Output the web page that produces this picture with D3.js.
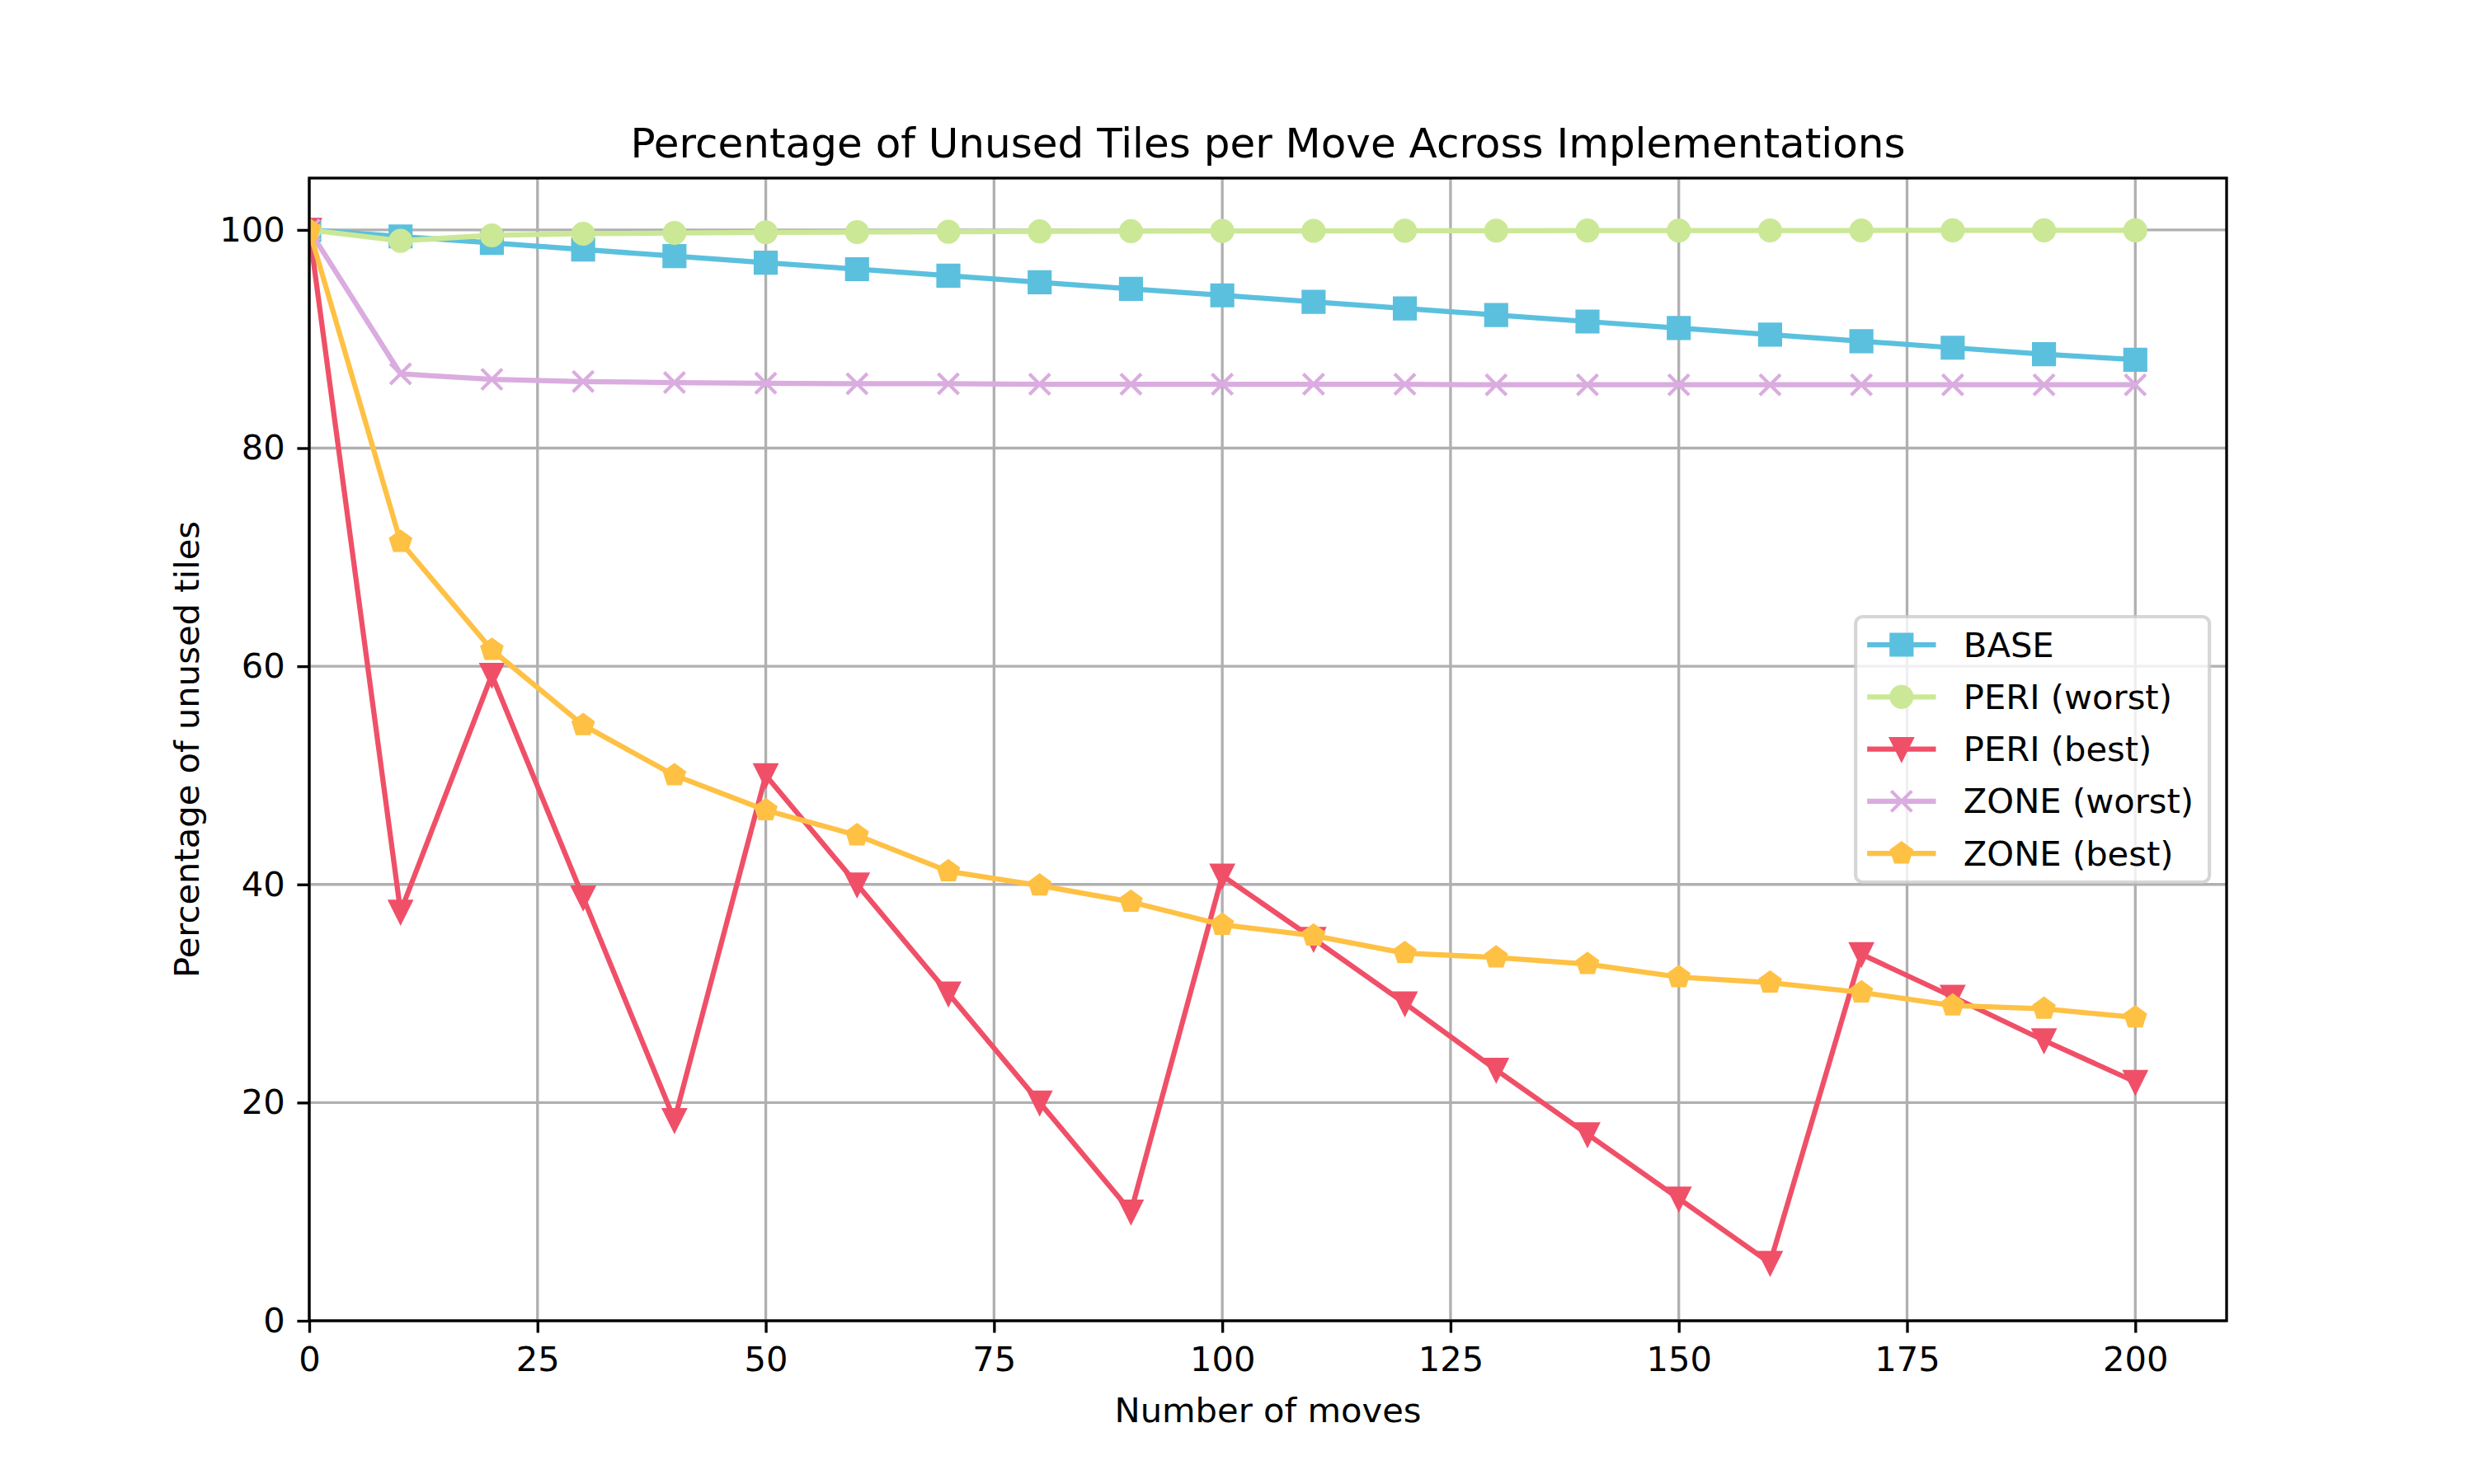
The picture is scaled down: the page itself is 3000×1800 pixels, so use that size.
<!DOCTYPE html>
<html><head><meta charset="utf-8">
<script src="https://cdn.jsdelivr.net/npm/d3@7"></script>
<style>body{margin:0;background:#fff}svg{display:block}text{font-family:"DejaVu Sans",sans-serif}</style>
</head><body>
<svg id="c" width="3000" height="1800"></svg>
<script>
const moves = [0,10,20,30,40,50,60,70,80,90,100,110,120,130,140,150,160,170,180,190,200];
const base = [100,99.4,98.8,98.2,97.6,97.0,96.4,95.8,95.2,94.6,94.0,93.4,92.8,92.2,91.6,91.0,90.4,89.8,89.2,88.6,88.1];
const periWorst = [100,99.0,99.5,99.65,99.72,99.78,99.8,99.83,99.86,99.88,99.9,99.91,99.92,99.93,99.94,99.94,99.95,99.95,99.96,99.96,99.96];
const periBest = [100,37.5,59.2,38.8,18.4,50.0,40.0,30.0,20.0,10.0,40.8,35.0,29.1,23.0,17.1,11.2,5.3,33.6,29.7,25.7,21.9];
const zoneWorst = [100,86.8,86.3,86.1,86.0,85.95,85.9,85.9,85.85,85.85,85.85,85.85,85.85,85.8,85.8,85.8,85.8,85.8,85.8,85.8,85.8];
const zoneBest = [100,71.4,61.5,54.6,50.0,46.8,44.5,41.2,39.9,38.4,36.3,35.3,33.7,33.3,32.7,31.5,31.0,30.1,28.9,28.6,27.8];
const seriesNames = ["BASE","PERI (worst)","PERI (best)","ZONE (worst)","ZONE (best)"];
const seriesColors = ["#5bc0de","#cbe896","#ef5068","#daacdf","#fec144"];
const seriesMarkers = ["square","circle","triangleDown","x","pentagon"];
const xTicks = [0,25,50,75,100,125,150,175,200];
const yTicks = [0,20,40,60,80,100];
const titleText = "Percentage of Unused Tiles per Move Across Implementations";
const xLabel = "Number of moves";
const yLabel = "Percentage of unused tiles";

const seriesValues = [base, periWorst, periBest, zoneWorst, zoneBest];
const L=375, R=2700, T=216, B=1602;
const pt = 300/72;
const fs = 10*pt;
const svg = d3.select("#c");
const x = d3.scaleLinear().domain([0,210]).range([L,R]);
const y = d3.scaleLinear().domain([0,104.75]).range([B,T]);

svg.append("defs").append("clipPath").attr("id","clip")
  .append("rect").attr("x",L).attr("y",T).attr("width",R-L).attr("height",B-T);

// grid
const grid = svg.append("g");
grid.selectAll("line.gx").data(xTicks).join("line")
  .attr("x1",d=>x(d)).attr("x2",d=>x(d)).attr("y1",T).attr("y2",B)
  .attr("stroke","#b0b0b0").attr("stroke-width",0.8*pt);
grid.selectAll("line.gy").data(yTicks).join("line")
  .attr("class","gy")
  .attr("y1",d=>y(d)).attr("y2",d=>y(d)).attr("x1",L).attr("x2",R)
  .attr("stroke","#b0b0b0").attr("stroke-width",0.8*pt);

const ms = 6*pt, mew = 1*pt;
function markerPath(type){
  const h = ms/2;
  if(type==="square") return `M${-h},${-h}H${h}V${h}H${-h}Z`;
  if(type==="circle") return d3.arc()({innerRadius:0,outerRadius:h,startAngle:0,endAngle:2*Math.PI});
  if(type==="triangleDown") return `M0,${h}L${-h},${-h}L${h},${-h}Z`;
  if(type==="x") return `M${-h},${-h}L${h},${h}M${-h},${h}L${h},${-h}`;
  if(type==="pentagon"){
    let p=[];
    for(let i=0;i<5;i++){const a=-Math.PI/2+i*2*Math.PI/5;p.push([h*Math.cos(a),h*Math.sin(a)]);}
    return "M"+p.map(q=>q.join(",")).join("L")+"Z";
  }
}
function drawMarker(g,type,color,cx,cy){
  const p = g.append("path").attr("d",markerPath(type)).attr("transform",`translate(${cx},${cy})`);
  if(type==="x") p.attr("fill","none").attr("stroke",color).attr("stroke-width",mew);
  else p.attr("fill",color).attr("stroke",color).attr("stroke-width",mew).attr("stroke-linejoin","miter");
}

const plot = svg.append("g").attr("clip-path","url(#clip)");
const line = d3.line().x((d,i)=>x(moves[i])).y(d=>y(d));
seriesValues.forEach((vals,si)=>{
  const g = plot.append("g");
  g.append("path").attr("d",line(vals)).attr("fill","none")
   .attr("stroke",seriesColors[si]).attr("stroke-width",1.5*pt)
   .attr("stroke-linejoin","round").attr("stroke-linecap","square");
  vals.forEach((v,i)=>drawMarker(g,seriesMarkers[si],seriesColors[si],x(moves[i]),y(v)));
});

// spines
svg.append("rect").attr("x",L).attr("y",T).attr("width",R-L).attr("height",B-T)
  .attr("fill","none").attr("stroke","#000").attr("stroke-width",0.8*pt);

// axes
const tl = 3.5*pt, pad = 3.5*pt;
const xa = svg.append("g").attr("transform",`translate(0,${B})`)
  .call(d3.axisBottom(x).tickValues(xTicks).tickSize(tl).tickPadding(pad).tickFormat(d3.format("d")));
const ya = svg.append("g").attr("transform",`translate(${L},0)`)
  .call(d3.axisLeft(y).tickValues(yTicks).tickSize(tl).tickPadding(pad).tickFormat(d3.format("d")));
[xa,ya].forEach(a=>{
  a.select(".domain").remove();
  a.selectAll(".tick line").attr("stroke","#000").attr("stroke-width",0.8*pt);
  a.selectAll(".tick text").attr("font-size",fs).attr("fill","#000").attr("font-family","DejaVu Sans");
});
xa.selectAll(".tick text").attr("dy","0.76em");

// title & labels
svg.append("text").attr("x",(L+R)/2).attr("y",T-25).attr("text-anchor","middle")
  .attr("font-size",12*pt).text(titleText);
svg.append("text").attr("x",(L+R)/2).attr("y",1710).attr("dy","0.35em").attr("text-anchor","middle")
  .attr("font-size",fs).text(xLabel);
svg.append("text").attr("transform",`translate(226,${(T+B)/2}) rotate(-90)`).attr("dy","0.35em")
  .attr("text-anchor","middle").attr("font-size",fs).text(yLabel);

// legend
const lg = svg.append("g");
const lw = 429, lh = 322;
const lx = R - 0.5*fs - lw, ly = (T+B)/2 - lh/2;
lg.append("rect").attr("x",lx).attr("y",ly).attr("width",lw).attr("height",lh)
  .attr("rx",0.2*fs).attr("fill","rgba(255,255,255,0.8)").attr("stroke","rgba(204,204,204,0.8)").attr("stroke-width",1*pt);
seriesNames.forEach((n,i)=>{
  const cy = ly + 34 + i*63.3;
  const x0 = lx + 14, x1 = x0 + 2*fs;
  lg.append("line").attr("x1",x0).attr("x2",x1).attr("y1",cy).attr("y2",cy)
    .attr("stroke",seriesColors[i]).attr("stroke-width",1.5*pt);
  drawMarker(lg,seriesMarkers[i],seriesColors[i],(x0+x1)/2,cy);
  lg.append("text").attr("x",x1+0.8*fs).attr("y",cy).attr("dy","0.35em").attr("font-size",fs).text(n);
});
</script>
</body></html>
